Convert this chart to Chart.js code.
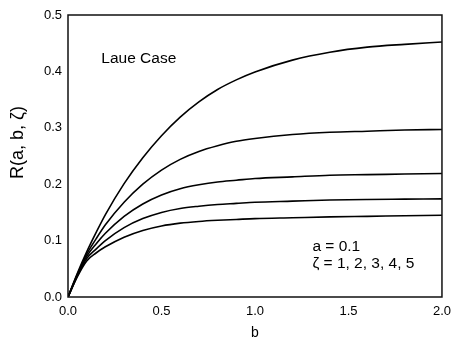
<!DOCTYPE html>
<html>
<head>
<meta charset="utf-8">
<script src="https://cdn.jsdelivr.net/npm/chart.js@4/dist/chart.umd.min.js"></script>
<style>
html,body{margin:0;padding:0;background:#fff;}
#wrap{width:458px;height:345px;}
</style>
</head>
<body>
<div id="wrap"><canvas id="c" width="458" height="345"></canvas></div>
<script>
const bValues = [0, 0.05, 0.1, 0.15, 0.2, 0.3, 0.4, 0.5, 0.6, 0.7, 0.8, 0.9, 1.0, 1.2, 1.4, 1.6, 1.8, 2.0];
const zeta1 = [0, 0.042, 0.080, 0.114, 0.146, 0.201, 0.247, 0.286, 0.319, 0.346, 0.368, 0.385, 0.399, 0.420, 0.434, 0.443, 0.448, 0.452];
const zeta2 = [0, 0.040, 0.076, 0.103, 0.128, 0.168, 0.200, 0.225, 0.244, 0.258, 0.268, 0.276, 0.281, 0.288, 0.292, 0.294, 0.296, 0.297];
const zeta3 = [0, 0.039, 0.072, 0.094, 0.113, 0.143, 0.165, 0.181, 0.192, 0.199, 0.204, 0.207, 0.210, 0.213, 0.216, 0.217, 0.218, 0.219];
const zeta4 = [0, 0.037, 0.068, 0.085, 0.100, 0.123, 0.139, 0.150, 0.157, 0.161, 0.164, 0.166, 0.168, 0.170, 0.172, 0.173, 0.1735, 0.174];
const zeta5 = [0, 0.036, 0.064, 0.078, 0.089, 0.106, 0.118, 0.126, 0.131, 0.134, 0.136, 0.1375, 0.139, 0.1405, 0.142, 0.143, 0.144, 0.145];
const xTickLabels = ['0.0', '0.5', '1.0', '1.5', '2.0'];
const yTickLabels = ['0.0', '0.1', '0.2', '0.3', '0.4', '0.5'];
const yTitle = 'R(a, b, ζ)';
const xTitle = 'b';
const annotations = [
  {text: 'Laue Case', b: 0.178, r: 0.422},
  {text: 'a = 0.1', b: 1.307, r: 0.0887},
  {text: 'ζ = 1, 2, 3, 4, 5', b: 1.307, r: 0.059}
];

const series = [zeta1, zeta2, zeta3, zeta4, zeta5];
const datasets = series.map((s, i) => ({
  label: 'ζ = ' + (i + 1),
  data: bValues.map((b, j) => ({x: b, y: s[j]})),
  borderColor: '#000',
  borderWidth: 1.6,
  pointRadius: 0,
  fill: false,
  cubicInterpolationMode: 'monotone'
}));

const FONT = '"Liberation Sans", Arial, sans-serif';

const framePlugin = {
  id: 'frame',
  afterDraw(chart) {
    const ctx = chart.ctx;
    const a = chart.chartArea;
    const ys = chart.scales.y, xs = chart.scales.x;
    ctx.save();
    ctx.strokeStyle = '#111';
    ctx.lineWidth = 1.5;
    ctx.beginPath();
    ctx.moveTo(a.left, a.top);
    ctx.lineTo(a.right, a.top);
    ctx.lineTo(a.right, a.bottom);
    ctx.lineTo(a.left, a.bottom);
    ctx.closePath();
    ctx.stroke();
    ctx.fillStyle = '#000';
    ctx.font = '15.5px ' + FONT;
    ctx.textBaseline = 'middle';
    ctx.textAlign = 'left';
    annotations.forEach(t => {
      ctx.fillText(t.text, xs.getPixelForValue(t.b), ys.getPixelForValue(t.r));
    });
    ctx.save();
    ctx.translate(18, ys.getPixelForValue(0.274));
    ctx.rotate(-Math.PI / 2);
    ctx.textAlign = 'center';
    ctx.font = '18px ' + FONT;
    ctx.fillText(yTitle, 0, 0);
    ctx.restore();
    ctx.restore();
  }
};

new Chart(document.getElementById('c'), {
  type: 'line',
  data: {datasets},
  options: {
    responsive: false,
    animation: false,
    layout: {padding: {left: 0, right: 9, top: 15, bottom: 0}},
    plugins: {legend: {display: false}, tooltip: {enabled: false}},
    scales: {
      x: {
        type: 'linear', min: 0, max: 2, position: 'bottom',
        afterFit(s) { s.height = 48; },
        grid: {display: false, drawTicks: false},
        border: {display: false},
        ticks: {
          stepSize: 0.5, padding: 7, color: '#000', maxRotation: 0,
          font: {family: FONT, size: 13},
          callback: (v) => { const i = Math.round(v * 2); return (Math.abs(v * 2 - i) < 1e-6) ? xTickLabels[i] : ''; }
        },
        title: {display: true, text: xTitle, color: '#000', font: {family: FONT, size: 14}, padding: {top: 0, bottom: 3}}
      },
      y: {
        type: 'linear', min: 0, max: 0.5, position: 'left',
        afterFit(s) { s.width = 68; },
        grid: {display: false, drawTicks: false},
        border: {display: false},
        ticks: {
          stepSize: 0.1, padding: 6, color: '#000',
          font: {family: FONT, size: 13},
          callback: (v) => { const i = Math.round(v * 10); return (Math.abs(v * 10 - i) < 1e-6) ? yTickLabels[i] : ''; }
        }
      }
    }
  },
  plugins: [framePlugin]
});
</script>
</body>
</html>
